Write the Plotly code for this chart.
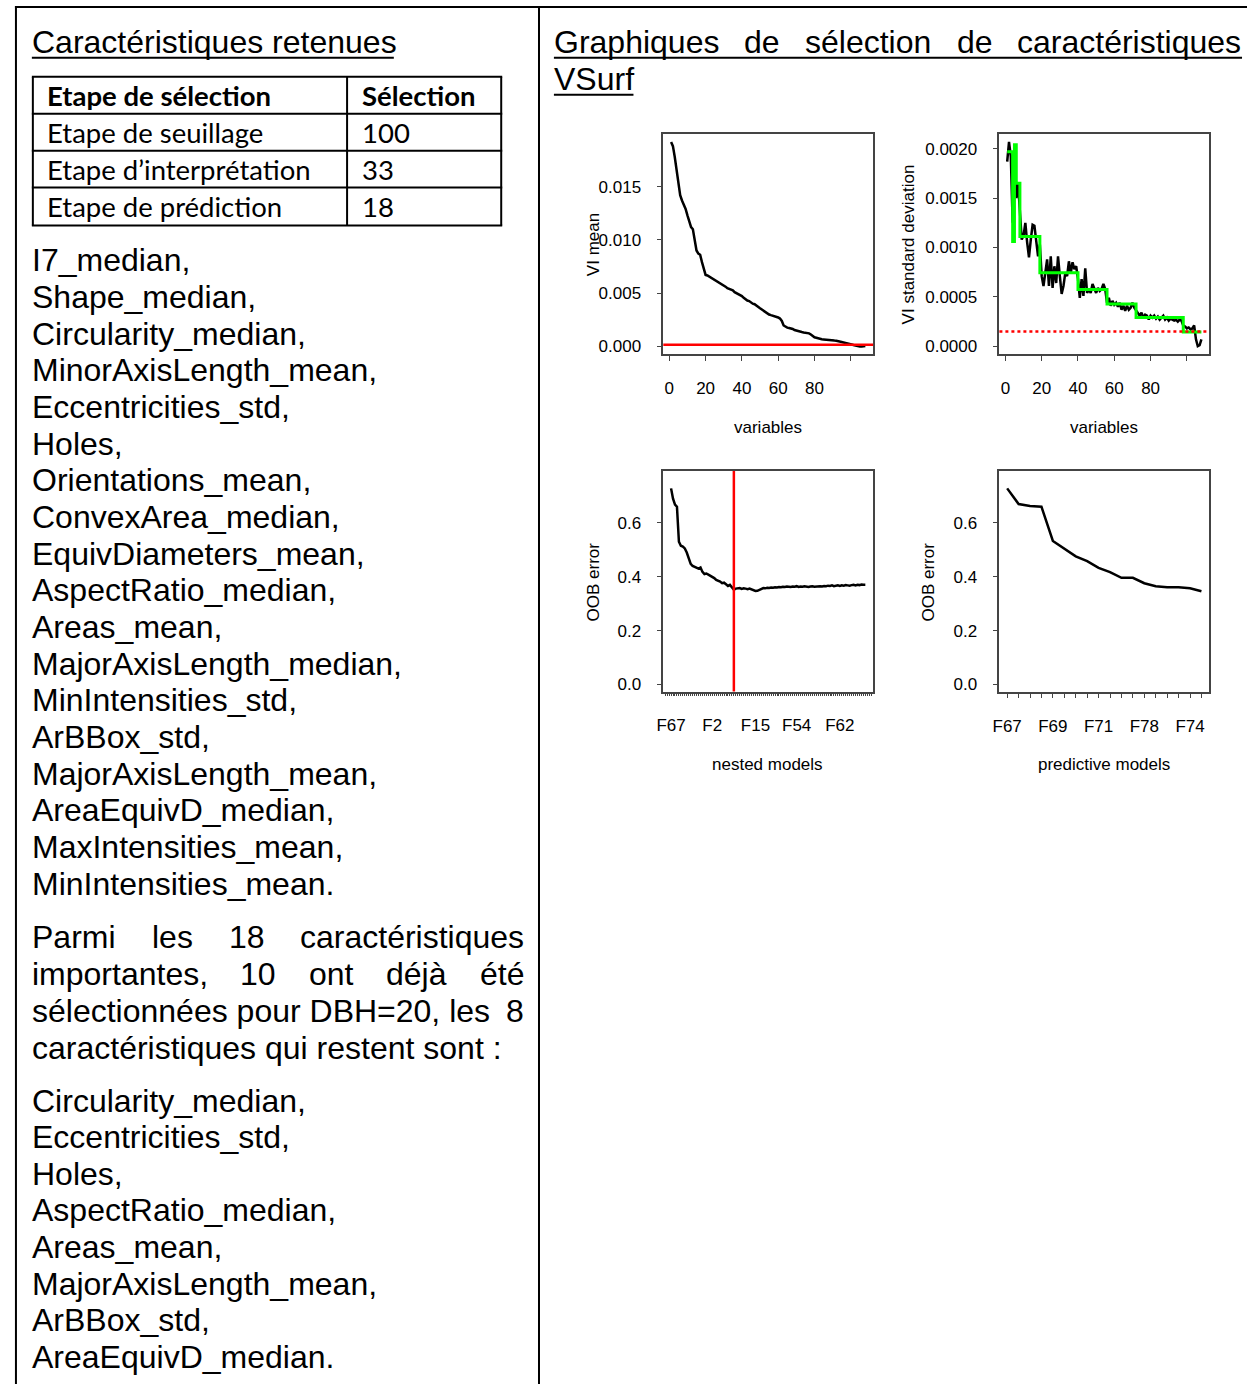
import plotly.graph_objects as go

W, H = 1247, 1387
ARIAL = "Liberation Sans, Arial, sans-serif"
CALIBRI = "Lato, Noto Sans, sans-serif"

# ---- left column: table + feature lists ----
TABLE_HEADER = ["Etape de sélection", "Sélection"]
TABLE_STEPS = ["Etape de seuillage", "Etape d’interprétation", "Etape de prédiction"]
TABLE_COUNTS = [100, 33, 18]

SELECTED_FEATURES = [
    "I7_median,", "Shape_median,", "Circularity_median,", "MinorAxisLength_mean,",
    "Eccentricities_std,", "Holes,", "Orientations_mean,", "ConvexArea_median,",
    "EquivDiameters_mean,", "AspectRatio_median,", "Areas_mean,",
    "MajorAxisLength_median,", "MinIntensities_std,", "ArBBox_std,",
    "MajorAxisLength_mean,", "AreaEquivD_median,", "MaxIntensities_mean,",
    "MinIntensities_mean.",
]
REMAINING_FEATURES = [
    "Circularity_median,", "Eccentricities_std,", "Holes,", "AspectRatio_median,",
    "Areas_mean,", "MajorAxisLength_mean,", "ArBBox_std,", "AreaEquivD_median.",
]

# ---- VSURF plots ----
VI_MEAN = [
    0.01920, 0.01880, 0.01780, 0.01650, 0.01520, 0.01420, 0.01370, 0.01330, 0.01290, 0.01230,
    0.01170, 0.01120, 0.01100, 0.00980, 0.00900, 0.00870, 0.00860, 0.00790, 0.00740, 0.00670,
    0.00665, 0.00655, 0.00645, 0.00630, 0.00620, 0.00610, 0.00600, 0.00590, 0.00578, 0.00568,
    0.00560, 0.00545, 0.00538, 0.00532, 0.00525, 0.00508, 0.00500, 0.00490, 0.00480, 0.00472,
    0.00455, 0.00438, 0.00430, 0.00425, 0.00410, 0.00400, 0.00395, 0.00380, 0.00368, 0.00357,
    0.00345, 0.00332, 0.00320, 0.00306, 0.00298, 0.00292, 0.00288, 0.00285, 0.00280, 0.00270,
    0.00260, 0.00238, 0.00195, 0.00182, 0.00175, 0.00172, 0.00168, 0.00162, 0.00152, 0.00146,
    0.00140, 0.00137, 0.00134, 0.00130, 0.00128, 0.00124, 0.00121, 0.00110, 0.00095, 0.00084,
    0.00080, 0.00074, 0.00070, 0.00066, 0.00064, 0.00061, 0.00060, 0.00058, 0.00056, 0.00054,
    0.00053, 0.00052, 0.00050, 0.00045, 0.00040, 0.00036, 0.00033, 0.00028, 0.00022, 0.00019,
    0.00014, 0.00008, 0.00003, 0.00000, -0.00003, -0.00003, -0.00002, 0.00003,
]
VI_SD = [
    0.00187, 0.00207, 0.00192, 0.00125, 0.00180, 0.00150, 0.00165, 0.00140, 0.00108, 0.00112,
    0.00125, 0.00105, 0.00090, 0.00108, 0.00123, 0.00122, 0.00108, 0.00091, 0.00103, 0.00071,
    0.00061, 0.00078, 0.00088, 0.00061, 0.00091, 0.00059, 0.00081, 0.00064, 0.00091, 0.00071,
    0.00053, 0.00061, 0.00074, 0.00071, 0.00086, 0.00074, 0.00085, 0.00078, 0.00081, 0.00068,
    0.00049, 0.00068, 0.00051, 0.00079, 0.00054, 0.00058, 0.00054, 0.00063, 0.00058, 0.00054,
    0.00059, 0.00056, 0.00058, 0.00063, 0.00058, 0.00044, 0.00049, 0.00041, 0.00046, 0.00042,
    0.00044, 0.00040, 0.00044, 0.00037, 0.00041, 0.00036, 0.00041, 0.00037, 0.00039, 0.00044,
    0.00039, 0.00036, 0.00034, 0.00031, 0.00034, 0.00029, 0.00032, 0.00031, 0.00027, 0.00031,
    0.00029, 0.00031, 0.00028, 0.00030, 0.00027, 0.00029, 0.00031, 0.00027, 0.00029, 0.00026,
    0.00028, 0.00027, 0.00026, 0.00027, 0.00025, 0.00027, 0.00026, 0.00021, 0.00020, 0.00018,
    0.00019, 0.00017, 0.00018, 0.00021, 0.00007, 0.00000, 0.00001, 0.00007,
]
SD_STEP_X = [1, 4, 5, 6, 8, 19, 40, 56, 72, 98, 108]
SD_STEP_Y = [0.00197, 0.00106, 0.00204, 0.00165, 0.00111, 0.000745, 0.000575,
             0.000428, 0.000290, 0.000145, 0.000145]
THRESHOLD = 0.00015

NESTED_OOB = [
    0.728, 0.690, 0.668, 0.660, 0.530, 0.515, 0.512, 0.505, 0.490, 0.470,
    0.448, 0.440, 0.436, 0.432, 0.430, 0.434, 0.418, 0.410, 0.412, 0.408,
    0.404, 0.398, 0.395, 0.388, 0.386, 0.382, 0.376, 0.378, 0.372, 0.366,
    0.370, 0.362, 0.352, 0.356, 0.357, 0.358, 0.355, 0.357, 0.356, 0.354,
    0.356, 0.352, 0.350, 0.347, 0.348, 0.352, 0.356, 0.358, 0.357, 0.359,
    0.358, 0.360, 0.359, 0.361, 0.360, 0.362, 0.361, 0.363, 0.362, 0.364,
    0.363, 0.362, 0.364, 0.363, 0.365, 0.362, 0.364, 0.363, 0.365, 0.364,
    0.362, 0.364, 0.365, 0.363, 0.364, 0.366, 0.365, 0.364, 0.366, 0.365,
    0.367, 0.366, 0.368, 0.365, 0.367, 0.368, 0.366, 0.368, 0.367, 0.369,
    0.368, 0.367, 0.369, 0.370, 0.368, 0.370, 0.369, 0.371, 0.370, 0.370,
]
N_INTERP = 33
NESTED_TICK_POS = [1, 22, 44, 65, 87]
NESTED_TICK_TEXT = ["F67", "F2", "F15", "F54", "F62"]

PRED_OOB = [0.728, 0.670, 0.663, 0.660, 0.533, 0.504, 0.476, 0.458, 0.433, 0.417,
            0.396, 0.396, 0.376, 0.365, 0.361, 0.361, 0.357, 0.346]
PRED_TICK_POS = [1, 5, 9, 13, 17]
PRED_TICK_TEXT = ["F67", "F69", "F71", "F78", "F74"]


def fx(p):
    return p / W


def fy(p):
    return 1 - p / H


annotations = []
shapes = []


def add_text(x, y, s, size=32, anchor="left", family=ARIAL, angle=0):
    annotations.append(dict(
        x=fx(x), y=fy(y), xref="paper", yref="paper", text=s, showarrow=False,
        xanchor=anchor, yanchor="middle", textangle=angle, borderpad=0, borderwidth=0,
        font=dict(family=family, size=size, color="black"),
    ))


def add_line(x0, y0, x1, y1, width=2, color="black", dash="solid"):
    shapes.append(dict(type="line", xref="paper", yref="paper",
                       x0=fx(x0), y0=fy(y0), x1=fx(x1), y1=fy(y1),
                       line=dict(color=color, width=width, dash=dash)))


# page frame
add_line(8, 7, W, 7)
add_line(9, 6, 9, H)
add_line(535, 6, 535, H)

# left title
add_text(25, 42, "Caractéristiques retenues")
add_line(25, 58, 389, 58)

# table
rows_y = [77, 114, 151, 188, 226]
for yy in rows_y:
    add_line(25, yy, 498, yy)
add_line(26, 77, 26, 226)
add_line(497, 77, 497, 226)
add_line(342, 77, 342, 226)
add_text(40, 96, "<b>" + TABLE_HEADER[0] + "</b>", size=27.5, family=CALIBRI)
add_text(357, 96, "<b>" + TABLE_HEADER[1] + "</b>", size=27.5, family=CALIBRI)
for i, (step, n) in enumerate(zip(TABLE_STEPS, TABLE_COUNTS)):
    cy = (rows_y[i + 1] + rows_y[i + 2]) / 2
    add_text(40, cy, step, size=27.5, family=CALIBRI)
    add_text(357, cy, str(n), size=27.5, family=CALIBRI)

for i, feat in enumerate(SELECTED_FEATURES):
    add_text(25, 261 + i * 36.75, feat)

# justified paragraph
add_text(25, 939, "Parmi")
add_text(166, 939, "les", anchor="center")
add_text(241, 939, "18", anchor="center")
add_text(520, 939, "caractéristiques", anchor="right")
add_text(25, 976, "importantes,")
add_text(252, 976, "10", anchor="center")
add_text(326, 976, "ont", anchor="center")
add_text(412, 976, "déjà", anchor="center")
add_text(520, 976, "été", anchor="right")
add_text(25, 1013, "sélectionnées pour DBH=20, les")
add_text(520, 1013, "8", anchor="right")
add_text(25, 1050, "caractéristiques qui restent sont :")

for i, feat in enumerate(REMAINING_FEATURES):
    add_text(25, 1103 + i * 36.7, feat)

# right title (justified)
add_text(550, 42, "Graphiques")
add_text(759, 42, "de", anchor="center")
add_text(866, 42, "sélection", anchor="center")
add_text(973, 42, "de", anchor="center")
add_text(1241, 42, "caractéristiques", anchor="right")
add_line(550, 58, 1242, 58)
add_text(550, 79, "VSurf")
add_line(550, 95, 630, 95)

# axis titles
add_text(590, 245, "VI mean", size=17, anchor="center", angle=-90)
add_text(765, 428, "variables", size=17, anchor="center")
add_text(907, 245, "VI standard deviation", size=17, anchor="center", angle=-90)
add_text(1103, 428, "variables", size=17, anchor="center")
add_text(590, 583, "OOB error", size=17, anchor="center", angle=-90)
add_text(765, 766, "nested models", size=17, anchor="center")
add_text(927, 583, "OOB error", size=17, anchor="center", angle=-90)
add_text(1103, 766, "predictive models", size=17, anchor="center")

fig = go.Figure()

idx_vars = list(range(1, len(VI_MEAN) + 1))
fig.add_trace(go.Scatter(x=idx_vars, y=VI_MEAN, mode="lines",
                         line=dict(color="black", width=2.5), xaxis="x", yaxis="y"))
fig.add_trace(go.Scatter(x=list(range(1, len(VI_SD) + 1)), y=VI_SD, mode="lines",
                         line=dict(color="black", width=2.5), xaxis="x2", yaxis="y2"))
fig.add_trace(go.Scatter(x=SD_STEP_X, y=SD_STEP_Y, mode="lines", line_shape="hv",
                         line=dict(color="#00ff00", width=3), xaxis="x2", yaxis="y2"))
fig.add_trace(go.Scatter(x=list(range(1, len(NESTED_OOB) + 1)), y=NESTED_OOB, mode="lines",
                         line=dict(color="black", width=2.5), xaxis="x3", yaxis="y3"))
fig.add_trace(go.Scatter(x=list(range(1, len(PRED_OOB) + 1)), y=PRED_OOB, mode="lines",
                         line=dict(color="black", width=2.5), xaxis="x4", yaxis="y4"))

shapes.append(dict(type="line", xref="x domain", yref="y", x0=0, x1=1,
                   y0=THRESHOLD, y1=THRESHOLD, line=dict(color="red", width=2.5)))
shapes.append(dict(type="line", xref="x2 domain", yref="y2", x0=0, x1=1,
                   y0=THRESHOLD, y1=THRESHOLD, line=dict(color="red", width=2.5, dash="dot")))
shapes.append(dict(type="line", xref="x3", yref="y3 domain", x0=N_INTERP, x1=N_INTERP,
                   y0=0, y1=1, line=dict(color="red", width=2.5)))

tick_font = dict(family=ARIAL, size=17, color="black")
axis_common = dict(showline=True, mirror=True, linecolor="#444", linewidth=1.5,
                   ticks="outside", tickcolor="#444", tickwidth=1, ticklen=5,
                   tickfont=tick_font, showgrid=False, zeroline=False, fixedrange=True)
xstyle = dict(axis_common, ticklabelstandoff=13)
ystyle = dict(axis_common, ticklabelstandoff=12)

top_dom = [fy(355), fy(134)]
bot_dom = [fy(693), fy(472)]
left_dom = [fx(660), fx(871)]
right_dom = [fx(998), fx(1209)]

fig.update_layout(
    width=W, height=H, margin=dict(l=0, r=0, t=0, b=0),
    paper_bgcolor="white", plot_bgcolor="white", showlegend=False,
    xaxis=dict(xstyle, domain=left_dom, anchor="y", range=[-3.3, 112.3],
               tickvals=[0, 20, 40, 60, 80, 100], ticktext=["0", "20", "40", "60", "80", ""]),
    yaxis=dict(ystyle, domain=top_dom, anchor="x", range=[-0.00075, 0.01997],
               tickvals=[0, 0.005, 0.010, 0.015], tickformat=".3f"),
    xaxis2=dict(xstyle, domain=right_dom, anchor="y2", range=[-3.3, 112.3],
                tickvals=[0, 20, 40, 60, 80, 100], ticktext=["0", "20", "40", "60", "80", ""]),
    yaxis2=dict(ystyle, domain=top_dom, anchor="x2", range=[-0.0000808, 0.002152],
                tickvals=[0, 0.0005, 0.0010, 0.0015, 0.0020], tickformat=".4f"),
    xaxis3=dict(xstyle, domain=left_dom, anchor="y3", range=[-2.96, 103.96],
                tickvals=NESTED_TICK_POS, ticktext=NESTED_TICK_TEXT, ticklen=3,
                ticklabelstandoff=14,
                minor=dict(ticks="outside", tick0=1, dtick=1, ticklen=3, tickcolor="#444")),
    yaxis3=dict(ystyle, domain=bot_dom, anchor="x3", range=[-0.0259, 0.7926],
                tickvals=[0, 0.2, 0.4, 0.6], tickformat=".1f"),
    xaxis4=dict(xstyle, domain=right_dom, anchor="y4", range=[0.32, 18.68],
                tickvals=PRED_TICK_POS, ticktext=PRED_TICK_TEXT,
                minor=dict(ticks="outside", tick0=1, dtick=1, ticklen=5, tickcolor="#444")),
    yaxis4=dict(ystyle, domain=bot_dom, anchor="x4", range=[-0.0259, 0.7926],
                tickvals=[0, 0.2, 0.4, 0.6], tickformat=".1f"),
    annotations=annotations,
    shapes=shapes,
)

# drop the browser's default body margin so the page coordinates match
fig.write_html("out.html", config={"displayModeBar": False},
               post_script="document.body.style.margin='0';document.body.style.overflow='hidden';")
